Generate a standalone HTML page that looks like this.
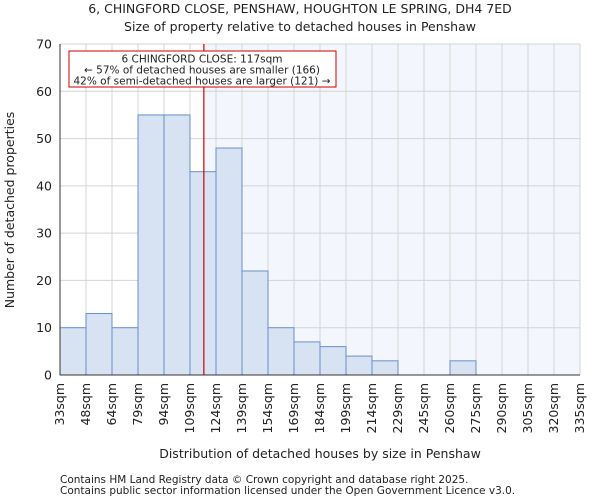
<!DOCTYPE html>
<html><head><meta charset="utf-8"><style>
body{margin:0;background:#fff;font-family:"DejaVu Sans","Liberation Sans",sans-serif;}
svg text{font-family:"DejaVu Sans","Liberation Sans",sans-serif;fill:#222;}
</style></head><body>
<svg id="chart" width="600" height="500" xmlns="http://www.w3.org/2000/svg">
<text x="300" y="13" font-size="12.5" text-anchor="middle">6, CHINGFORD CLOSE, PENSHAW, HOUGHTON LE SPRING, DH4 7ED</text>
<text x="300" y="31" font-size="12.5" text-anchor="middle">Size of property relative to detached houses in Penshaw</text>
<g id="plot"></g>
<text x="320" y="458" font-size="12.5" text-anchor="middle">Distribution of detached houses by size in Penshaw</text>
<text transform="translate(14,210) rotate(-90)" font-size="12.5" text-anchor="middle">Number of detached properties</text>
<text x="60" y="483" font-size="10.5">Contains HM Land Registry data © Crown copyright and database right 2025.</text>
<text x="60" y="494" font-size="10.5">Contains public sector information licensed under the Open Government Licence v3.0.</text>
</svg>
<script>
const binLabels=["33sqm","48sqm","64sqm","79sqm","94sqm","109sqm","124sqm","139sqm","154sqm","169sqm","184sqm","199sqm","214sqm","229sqm","245sqm","260sqm","275sqm","290sqm","305sqm","320sqm","335sqm"];
const binEdges=[33,48,64,79,94,109,124,139,154,169,184,199,214,229,245,260,275,290,305,320,335];
const counts=[10,13,10,55,55,43,48,22,10,7,6,4,3,0,0,3,0,0,0,0];
const yTicks=[0,10,20,30,40,50,60,70];
const propertySize=117;
const NS="http://www.w3.org/2000/svg";
const L=60,R=580,T=44,B=375,yMax=70;
const nb=counts.length,bw=(R-L)/nb;
const xIdx=i=>L+i*bw;
const xVal=v=>{for(let i=0;i<nb;i++){if(v<=binEdges[i+1])return xIdx(i)+(v-binEdges[i])/(binEdges[i+1]-binEdges[i])*bw;}return R;};
const y=v=>B-v/yMax*(B-T);
const g=document.getElementById('plot');
function el(t,a){const e=document.createElementNS(NS,t);for(const k in a)e.setAttribute(k,a[k]);g.appendChild(e);return e;}
const px=xVal(propertySize);
let bg=el('rect',{x:px,y:T,width:R-px,height:B-T,fill:'#f4f6fd'});


for(let i=0;i<=nb;i++){let l=el('line',{x1:xIdx(i),x2:xIdx(i),y1:T,y2:B,stroke:'#d4d4d4','stroke-width':1});

}
yTicks.forEach(v=>{let l=el('line',{x1:L,x2:R,y1:y(v),y2:y(v),stroke:'#d4d4d4','stroke-width':1});


let t=el('text',{x:L-8,y:y(v)+4.5,'font-size':12.5,'text-anchor':'end'});t.textContent=v;

});
counts.forEach((c,i)=>{if(c<=0)return;let r=el('rect',{x:xIdx(i),y:y(c),width:bw,height:B-y(c),fill:'#d7e2f3',stroke:'#6b8fc9','stroke-width':1});

});
binLabels.forEach((s,i)=>{let t=el('text',{transform:`translate(${xIdx(i)+4},${B+8}) rotate(-90)`,'font-size':12.5,'text-anchor':'end'});t.textContent=s;

});
let ax=el('line',{x1:L,x2:R,y1:B,y2:B,stroke:'#333'});


let ay=el('line',{x1:L,x2:L,y1:T,y2:B,stroke:'#333'});


let m=el('line',{x1:px,x2:px,y1:T,y2:B,stroke:'#c00','stroke-width':1.2});


let box=el('rect',{x:69,y:51,width:267,height:36,fill:'#fff',stroke:'#c00','stroke-width':1});


["6 CHINGFORD CLOSE: 117sqm","← 57% of detached houses are smaller (166)","42% of semi-detached houses are larger (121) →"].forEach((s,i)=>{let t=el('text',{x:202,y:62.5+i*11,'font-size':10.5,'text-anchor':'middle'});t.textContent=s;

});
</script>
</body></html>
